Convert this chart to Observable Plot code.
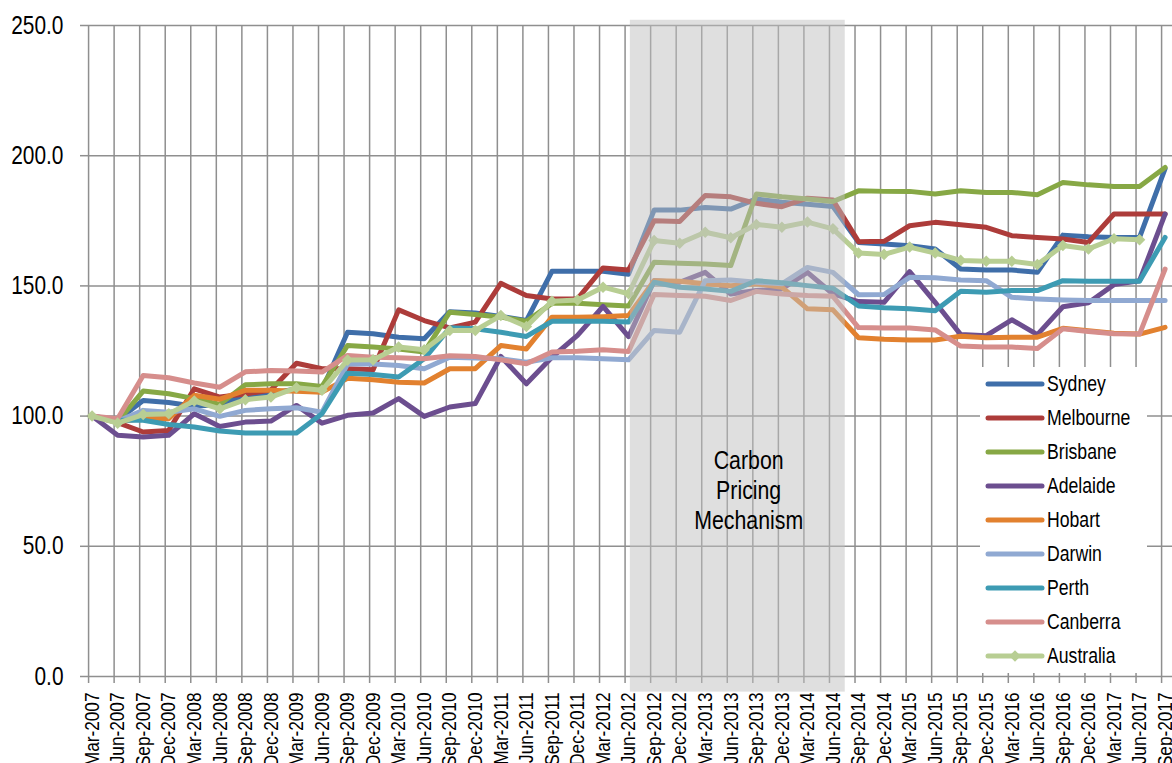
<!DOCTYPE html>
<html>
<head>
<meta charset="utf-8">
<script src="https://cdn.jsdelivr.net/npm/d3@7"></script>
<script src="https://cdn.jsdelivr.net/npm/@observablehq/plot@0.6"></script>
<style>
  body { margin: 0; background: #fff; overflow: hidden; }
  #wrap { position: relative; width: 1172px; height: 763px; }
  #legend { position: absolute; left: 980px; top: 367px; width: 167px; height: 306px; background: #fff;
            font-family: 'Liberation Sans', Arial, sans-serif; font-size: 21.5px; color: #000; }
  .item { position: absolute; left: 0; height: 34px; display: flex; align-items: center; white-space: nowrap; }
  .item svg { display: block; }
  .item span { display: inline-block; transform: scaleX(0.82); transform-origin: left center; }
</style>
</head>
<body>
<div id="wrap"><div id="legend"></div></div>
<script>
const quarterLabels = ["Mar-2007","Jun-2007","Sep-2007","Dec-2007","Mar-2008","Jun-2008","Sep-2008","Dec-2008",
  "Mar-2009","Jun-2009","Sep-2009","Dec-2009","Mar-2010","Jun-2010","Sep-2010","Dec-2010",
  "Mar-2011","Jun-2011","Sep-2011","Dec-2011","Mar-2012","Jun-2012","Sep-2012","Dec-2012",
  "Mar-2013","Jun-2013","Sep-2013","Dec-2013","Mar-2014","Jun-2014","Sep-2014","Dec-2014",
  "Mar-2015","Jun-2015","Sep-2015","Dec-2015","Mar-2016","Jun-2016","Sep-2016","Dec-2016",
  "Mar-2017","Jun-2017","Sep-2017"];

const seriesNames = ["Sydney","Melbourne","Brisbane","Adelaide","Hobart","Darwin","Perth","Canberra","Australia"];
const seriesColors = ["#3F6EA9","#AD3C3A","#87A845","#6C4E8F","#E2812F","#90A9D2","#3D9BB3","#D68E8C","#B8CE93"];

const sydney = [100,98.5,106,105.2,103.8,104.5,107.8,108.6,110.5,110,132.2,131.6,130.3,129.7,140.1,139.6,138.3,136.7,155.6,155.6,155.6,154.5,179.1,179.1,180.1,179.5,183.4,182.1,181.4,180.5,166.7,166.1,165.4,164.2,156.5,156.1,156.1,155.2,169.5,168.9,168.6,168.6,195];
const melbourne = [100,97.5,93.9,94.5,110.5,107.3,108.5,110,120.3,118.2,118.2,117.8,140.8,136.7,133.9,136.1,151,146.3,145,145,156.9,156.1,175,174.7,184.7,184.2,181.7,180.4,183.7,183,167,167.1,173.1,174.4,173.5,172.5,169.3,168.6,168,166.7,177.6,177.6,177.6];
const brisbane = [100,98,109.6,108.6,106.7,104.5,112,112.4,112.4,111.4,127.1,126.5,125.8,124.6,139.9,139,138,136.4,143.3,143.3,142.8,142.3,159.1,158.7,158.4,157.8,185.3,184.2,183.4,182.4,186.5,186.3,186.3,185.3,186.5,185.9,185.9,185,189.7,188.8,188.2,188.2,195.5];
const adelaide = [100,92.6,92,92.6,100.9,96,97.7,98.1,104.1,97.3,100.3,101.2,106.7,99.9,103.5,104.8,122.9,112.4,122.6,131,142.1,130.5,152,151.4,155.2,146.9,148.2,148.8,155.2,146.9,144,143.7,155.5,143.7,131.3,130.9,137,131.3,142,143.5,150.5,152,177.6];
const hobart = [100,98,99,99,108,106.5,109.9,109.9,109.5,109.2,114.5,114,113,112.7,118.2,118.2,127.1,125.8,138,138,138.2,138.6,152,151.8,150.8,150.1,150.8,149.5,141.2,140.8,130.1,129.5,129.2,129.2,130.7,130.1,130.3,130.3,133.7,132.8,131.8,131.5,134.1];
const darwin = [100,98,102.2,101.5,102.8,99.9,102.2,102.8,103.2,101.5,120,120,119.4,118.2,122.6,122.3,122,120.7,122.4,122.4,122,121.6,132.9,132.2,152,152.3,151.4,150.8,157.1,155.2,146.6,146.7,153.3,153.1,152.3,152,145.6,145,144.6,144.4,144.4,144.4,144.4];
const perth = [100,98.4,98.4,96.8,95.8,94.3,93.5,93.5,93.5,100.9,116.5,116,115,122,133.9,133.5,132.2,130.6,136.4,136.4,136.4,136.1,151.4,149.5,148.8,147.9,152,151.2,150.1,149.1,142.3,141.6,141.2,140.5,147.9,147.6,148.2,148.2,152,151.8,151.8,151.8,168.6];
const canberra = [100,99,115.6,114.7,112.7,111.1,117,117.5,117.3,116.9,123.3,122.6,122.4,122,123.2,122.9,121.6,120.1,124.6,124.9,125.5,124.8,146.7,146.3,146,144.4,147.9,146.9,146.3,146,134,133.8,133.8,133.1,126.9,126.5,126.5,126,133.5,132.5,131.6,131.5,156.5];
const australia = [100,97.3,100.6,100.9,105.8,102.8,106.3,107.3,110.9,109.9,121.5,121.6,126.5,125.5,132.9,132.9,138.6,134.4,144.1,144.6,149.5,147,167.4,166.4,170.6,168.5,173.6,172.5,174.5,171.9,162.6,162.1,164.9,162.6,159.8,159.5,159.5,158.2,165.5,164.2,168.1,167.7,null];

const yTicks = [0, 50, 100, 150, 200, 250];
const carbonBand = [{start: 21.07, end: 29.48, low: -6, high: 252, labelX: 25.7, labelY: 71.8, label: "Carbon\nPricing\nMechanism"}];

const seriesValues = [sydney, melbourne, brisbane, adelaide, hobart, darwin, perth, canberra, australia];
const rows = [];
seriesNames.forEach((name, s) => {
  seriesValues[s].forEach((v, i) => rows.push({series: name, i, v}));
});
const idx = quarterLabels.map((_, i) => i);

const FONT = "'Liberation Sans', Arial, sans-serif";
const GRID = "#8f8f8f";
const NARROW = 0.82; // emulate Arial Narrow

const chart = Plot.plot({
  width: 1172,
  height: 763,
  marginLeft: 88,
  marginRight: 0,
  marginTop: 25,
  marginBottom: 87,
  style: {fontFamily: FONT, background: "transparent", overflow: "visible"},
  x: {domain: [-0.14, 42.29]},
  y: {domain: [0, 250]},
  color: {domain: seriesNames, range: seriesColors},
  marks: [
    Plot.gridY(yTicks, {stroke: GRID, strokeOpacity: 1, strokeWidth: 1.5}),
    Plot.gridX(idx, {stroke: GRID, strokeOpacity: 1, strokeWidth: 1.5, dx: -3.5}),
    Plot.axisX(idx, {tickSize: 7, fill: "none", stroke: GRID, strokeWidth: 1.5, dx: -3.5, label: null}),
    Plot.line(rows, {x: "i", y: "v", z: "series", stroke: "series", strokeWidth: 5,
      strokeLinejoin: "round", strokeLinecap: "round"}),
    Plot.dot(rows.filter(d => d.series === "Australia" && d.v != null), {x: "i", y: "v", symbol: "diamond2", r: 5.2,
      fill: seriesColors[8], stroke: "none"}),
    Plot.rect(carbonBand, {x1: "start", x2: "end", y1: "low", y2: "high", fill: "#bfbfbf", fillOpacity: 0.5}),
    Plot.text(carbonBand, {x: "labelX", y: "labelY", text: "label", fontSize: 26, lineHeight: 1.15, fill: "#000",
      textAnchor: "middle", lineAnchor: "middle"}),
    Plot.axisY(yTicks, {tickFormat: d3.format(".1f"), tickSize: 8, tickPadding: 17, fontSize: 25.5,
      stroke: GRID, strokeWidth: 1.5, fill: "#000", label: null}),
    Plot.axisX(idx, {tickFormat: i => quarterLabels[i], tickRotate: -90, tickSize: 7, tickPadding: 9,
      fontSize: 21, stroke: "none", fill: "#000", label: null})
  ]
});

// condense all SVG text horizontally (along its own writing direction)
d3.select(chart).selectAll("text").each(function() {
  const t = this.getAttribute("transform");
  if (t) {
    this.setAttribute("transform", t + ` scale(${NARROW},1)`);
  } else {
    const x = +this.getAttribute("x") || 0, y = +this.getAttribute("y") || 0;
    this.setAttribute("transform", `translate(${x},${y}) scale(${NARROW},1) translate(${-x},${-y})`);
  }
});

document.getElementById("wrap").insertBefore(chart, document.getElementById("legend"));

const legend = d3.select("#legend");
seriesNames.forEach((name, k) => {
  const item = legend.append("div").attr("class", "item").style("top", (34 * k) + "px");
  const svg = item.append("svg").attr("width", 67).attr("height", 34);
  svg.append("line").attr("x1", 8).attr("x2", 62).attr("y1", 17).attr("y2", 17)
    .attr("stroke", seriesColors[k]).attr("stroke-width", 5).attr("stroke-linecap", "round");
  if (name === "Australia") {
    svg.append("path").attr("d", d3.symbol(d3.symbolDiamond2, 85)()).attr("transform", "translate(35,17)")
      .attr("fill", seriesColors[k]);
  }
  item.append("span").text(name);
});
</script>
</body>
</html>
